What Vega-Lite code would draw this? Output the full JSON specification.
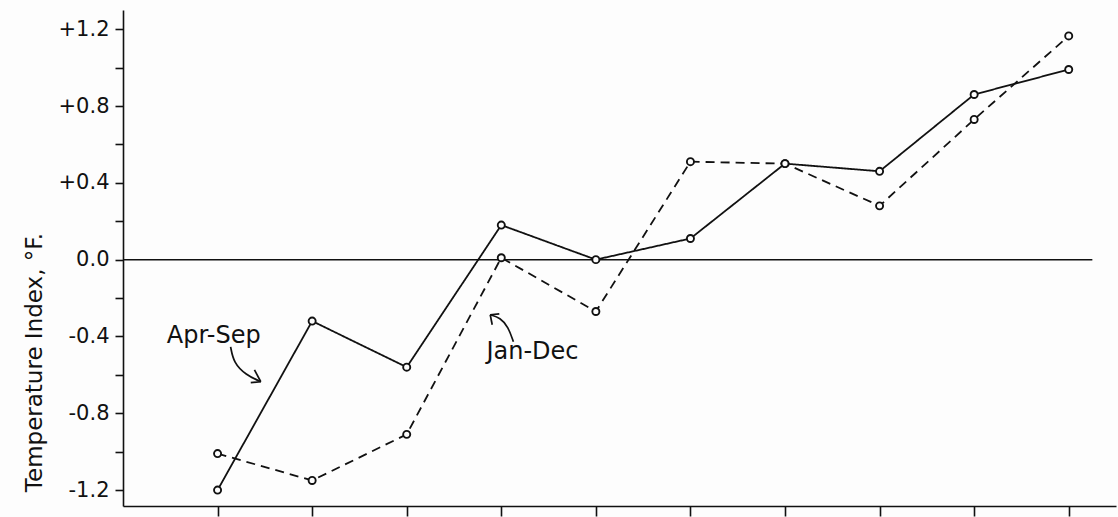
{
  "$schema": "https://vega.github.io/schema/vega-lite/v6.json",
  "width": 1118,
  "height": 517,
  "autosize": {"type": "fit", "contains": "padding"},
  "padding": {"left": 23, "top": 10, "right": 2, "bottom": 0},
  "background": "#fdfdfd",
  "config": {
    "view": {"stroke": null},
    "font": "DejaVu Sans",
    "axis": {
      "domainColor": "#111",
      "domainWidth": 1.6,
      "tickColor": "#111",
      "tickWidth": 1.6,
      "grid": false,
      "labelColor": "#111",
      "titleColor": "#111",
      "labelFont": "DejaVu Sans",
      "titleFont": "DejaVu Sans"
    }
  },
  "datasets": {
    "series": [
      {"pt": 1, "temp": -1.2, "season": "Apr-Sep"},
      {"pt": 2, "temp": -0.32, "season": "Apr-Sep"},
      {"pt": 3, "temp": -0.56, "season": "Apr-Sep"},
      {"pt": 4, "temp": 0.18, "season": "Apr-Sep"},
      {"pt": 5, "temp": 0.0, "season": "Apr-Sep"},
      {"pt": 6, "temp": 0.11, "season": "Apr-Sep"},
      {"pt": 7, "temp": 0.5, "season": "Apr-Sep"},
      {"pt": 8, "temp": 0.46, "season": "Apr-Sep"},
      {"pt": 9, "temp": 0.86, "season": "Apr-Sep"},
      {"pt": 10, "temp": 0.99, "season": "Apr-Sep"},
      {"pt": 1, "temp": -1.01, "season": "Jan-Dec"},
      {"pt": 2, "temp": -1.15, "season": "Jan-Dec"},
      {"pt": 3, "temp": -0.91, "season": "Jan-Dec"},
      {"pt": 4, "temp": 0.01, "season": "Jan-Dec"},
      {"pt": 5, "temp": -0.27, "season": "Jan-Dec"},
      {"pt": 6, "temp": 0.51, "season": "Jan-Dec"},
      {"pt": 7, "temp": 0.5, "season": "Jan-Dec"},
      {"pt": 8, "temp": 0.28, "season": "Jan-Dec"},
      {"pt": 9, "temp": 0.73, "season": "Jan-Dec"},
      {"pt": 10, "temp": 1.165, "season": "Jan-Dec"}
    ],
    "arrows": [
      {"seg": "a1", "o": 1, "x": 1.138, "y": -0.454},
      {"seg": "a1", "o": 2, "x": 1.170, "y": -0.537},
      {"seg": "a1", "o": 3, "x": 1.298, "y": -0.600},
      {"seg": "a1", "o": 4, "x": 1.457, "y": -0.636},
      {"seg": "a2", "o": 1, "x": 1.390, "y": -0.574},
      {"seg": "a2", "o": 2, "x": 1.457, "y": -0.636},
      {"seg": "a3", "o": 1, "x": 1.351, "y": -0.641},
      {"seg": "a3", "o": 2, "x": 1.457, "y": -0.636},
      {"seg": "b1", "o": 1, "x": 4.128, "y": -0.428},
      {"seg": "b1", "o": 2, "x": 4.074, "y": -0.350},
      {"seg": "b1", "o": 3, "x": 3.989, "y": -0.303},
      {"seg": "b1", "o": 4, "x": 3.883, "y": -0.287},
      {"seg": "b2", "o": 1, "x": 3.979, "y": -0.282},
      {"seg": "b2", "o": 2, "x": 3.883, "y": -0.287},
      {"seg": "b3", "o": 1, "x": 3.904, "y": -0.339},
      {"seg": "b3", "o": 2, "x": 3.883, "y": -0.287}
    ],
    "labels": [
      {"x": 0.96, "y": -0.40, "text": "Apr-Sep"},
      {"x": 4.33, "y": -0.48, "text": "Jan-Dec"}
    ],
    "zero": [{"x": 0, "x2": 10.25, "y": 0}]
  },
  "layer": [
    {
      "data": {"name": "zero"},
      "mark": {"type": "rule", "color": "#111", "strokeWidth": 1.5},
      "encoding": {
        "x": {"field": "x", "type": "quantitative"},
        "x2": {"field": "x2"},
        "y": {"field": "y", "type": "quantitative"}
      }
    },
    {
      "data": {"name": "series"},
      "mark": {"type": "line", "color": "#111", "strokeWidth": 1.8},
      "encoding": {
        "x": {
          "field": "pt", "type": "quantitative",
          "scale": {"domain": [0, 10.5], "nice": false, "zero": false},
          "axis": {"values": [1,2,3,4,5,6,7,8,9,10], "labels": false, "title": null, "tickSize": 10, "ticks": true}
        },
        "y": {
          "field": "temp", "type": "quantitative",
          "scale": {"domain": [-1.283, 1.3], "nice": false, "zero": false},
          "axis": {
            "values": [-1.2, -1.0, -0.8, -0.6, -0.4, -0.2, 0, 0.2, 0.4, 0.6, 0.8, 1.0, 1.2],
            "labelExpr": "abs(round(datum.value*10)) % 4 == 0 ? (datum.value > 0.001 ? '+' : (datum.value < -0.001 ? '-' : '')) + format(abs(datum.value), '.1f') : ''",
            "labelFontSize": 21,
            "labelPadding": 6,
            "tickSize": 8,
            "title": "Temperature Index, °F.",
            "titleFontSize": 23,
            "titleFontWeight": "normal",
            "titlePadding": 12,
            "titleY": 352
          }
        },
        "strokeDash": {
          "field": "season", "type": "nominal",
          "scale": {"domain": ["Apr-Sep", "Jan-Dec"], "range": [[1, 0], [9, 6]]},
          "legend": null
        }
      }
    },
    {
      "data": {"name": "series"},
      "mark": {"type": "point", "shape": "circle", "size": 50, "stroke": "#111", "strokeWidth": 1.9, "fill": "#fdfdfd", "filled": false, "opacity": 1},
      "encoding": {
        "x": {"field": "pt", "type": "quantitative"},
        "y": {"field": "temp", "type": "quantitative"}
      }
    },
    {
      "data": {"name": "arrows"},
      "mark": {"type": "line", "color": "#111", "strokeWidth": 1.7, "interpolate": "basis"},
      "encoding": {
        "x": {"field": "x", "type": "quantitative"},
        "y": {"field": "y", "type": "quantitative"},
        "detail": {"field": "seg", "type": "nominal"},
        "order": {"field": "o", "type": "quantitative"}
      }
    },
    {
      "data": {"name": "labels"},
      "mark": {"type": "text", "fontSize": 24, "color": "#111", "font": "DejaVu Sans"},
      "encoding": {
        "x": {"field": "x", "type": "quantitative"},
        "y": {"field": "y", "type": "quantitative"},
        "text": {"field": "text"}
      }
    }
  ]
}
